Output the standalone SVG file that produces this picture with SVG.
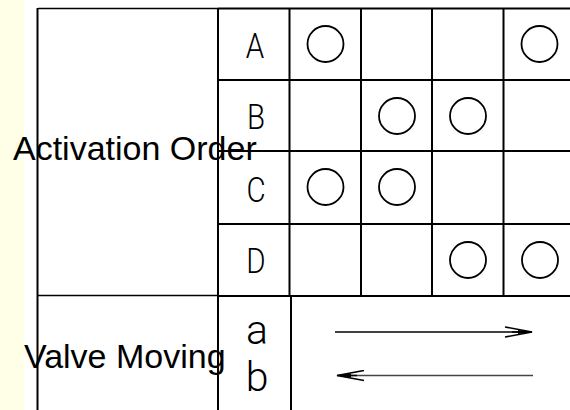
<svg xmlns="http://www.w3.org/2000/svg" width="570" height="410" viewBox="0 0 570 410">
<style>
.g{stroke:#000;stroke-width:2;fill:none}
.t{stroke:#000;stroke-width:1.4;fill:none}
.c{stroke:#000;stroke-width:1.8;fill:none}
.lab{font-family:"Liberation Sans",Arial,sans-serif;font-size:34px;fill:#000}
.pl{font-family:Roboto,"Liberation Sans",sans-serif;font-weight:300;fill:#000}
</style>
<defs>
<marker id="ah" markerWidth="30" markerHeight="12" refX="28" refY="6" orient="auto-start-reverse" markerUnits="userSpaceOnUse">
<path d="M1,1 L28,6 L1,11 M8,6 L28,6" stroke="#000" stroke-width="1.6" fill="none"/>
<path d="M14,4 L28,6 L14,8 Z" fill="#000"/>
</marker>
</defs>
<rect x="0" y="0" width="24" height="410" fill="#FFFFE8"/>
<g id="grid">
<line class="t" x1="38" y1="8.5" x2="218" y2="8.5"/>
<line class="g" x1="218" y1="8.5" x2="570" y2="8.5"/>
<line class="g" x1="37.5" y1="8" x2="37.5" y2="410"/>
<line class="g" x1="218" y1="8" x2="218" y2="410"/>
<line class="g" x1="289.5" y1="8" x2="289.5" y2="296"/>
<line class="g" x1="291" y1="296" x2="291" y2="410"/>
<line class="g" x1="361" y1="8" x2="361" y2="296"/>
<line class="g" x1="432" y1="8" x2="432" y2="296"/>
<line class="g" x1="503.5" y1="8" x2="503.5" y2="296"/>
<line class="g" x1="218" y1="80" x2="570" y2="80"/>
<line class="g" x1="218" y1="151" x2="570" y2="151"/>
<line class="g" x1="218" y1="224" x2="570" y2="224"/>
<line class="t" x1="38" y1="295.5" x2="218" y2="295.5"/>
<line class="g" x1="218" y1="296" x2="570" y2="296"/>
</g>
<g id="rowLabels">
<text class="pl" font-size="36" transform="translate(255,58) scale(0.82,1)" text-anchor="middle">A</text>
<text class="pl" font-size="36" transform="translate(256,129) scale(0.82,1)" text-anchor="middle">B</text>
<text class="pl" font-size="36" transform="translate(256,202) scale(0.82,1)" text-anchor="middle">C</text>
<text class="pl" font-size="36" transform="translate(256,273) scale(0.82,1)" text-anchor="middle">D</text>
<text class="pl" font-size="41" x="257" y="344" text-anchor="middle">a</text>
<text class="pl" font-size="41" x="257" y="391" text-anchor="middle">b</text>
</g>
<g id="marks">
<circle class="c" cx="325.5" cy="44" r="18"/>
<circle class="c" cx="539.5" cy="44" r="18"/>
<circle class="c" cx="397" cy="116" r="18"/>
<circle class="c" cx="468" cy="116" r="18"/>
<circle class="c" cx="325.5" cy="187" r="18"/>
<circle class="c" cx="397" cy="187" r="18"/>
<circle class="c" cx="468" cy="260" r="18"/>
<circle class="c" cx="540" cy="260" r="18"/>
</g>
<g id="connectors">
<line x1="335" y1="332" x2="532" y2="332" stroke="#000" stroke-width="1.4" marker-end="url(#ah)"/>
<line x1="337" y1="375.5" x2="533" y2="375.5" stroke="#444" stroke-width="1.4" marker-start="url(#ah)"/>
</g>
<g id="titles">
<text class="lab" x="13" y="160">Activation Order</text>
<text class="lab" x="24" y="368">Valve Moving</text>
</g>
</svg>
